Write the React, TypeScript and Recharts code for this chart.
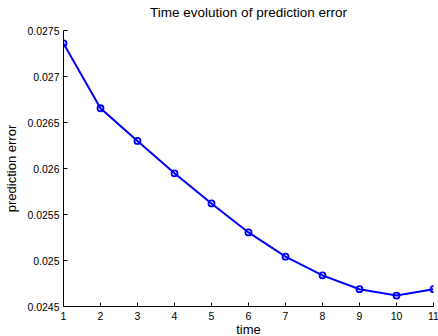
import React from 'react';
import { LineChart, Line, XAxis, YAxis, Label } from 'recharts';

const times = [1, 2, 3, 4, 5, 6, 7, 8, 9, 10, 11];
const predictionErrors = [
  0.02736, 0.026655, 0.0263, 0.025948, 0.02562, 0.025305,
  0.025042, 0.024839, 0.024688, 0.024619, 0.024688,
];
const xTicks = [1, 2, 3, 4, 5, 6, 7, 8, 9, 10, 11];
const yTicks = [0.0245, 0.025, 0.0255, 0.026, 0.0265, 0.027, 0.0275];

const data = times.map((t, i) => ({ time: t, error: predictionErrors[i] }));

const FONT = '"Liberation Sans", Arial, Helvetica, sans-serif';
const TICK_LEN = 4;

const fmtY = (v: number) => String(Number(v.toFixed(4)));

const BottomTick = (props: any) => {
  const { x, y, payload } = props;
  return (
    <g>
      <line x1={x} y1={y} x2={x} y2={y - TICK_LEN} stroke="#000" />
      <text x={x} y={y + 13} textAnchor="middle" fontSize={10.5} fontFamily={FONT} fill="#000">
        {payload.value}
      </text>
    </g>
  );
};

const TopTick = (props: any) => {
  const { x, y } = props;
  return <line x1={x} y1={y} x2={x} y2={y + TICK_LEN} stroke="#000" />;
};

const LeftTick = (props: any) => {
  const { x, y, payload } = props;
  return (
    <g>
      <line x1={x} y1={y} x2={x + TICK_LEN} y2={y} stroke="#000" />
      <text x={x - 4} y={y + 4} textAnchor="end" fontSize={10.5} fontFamily={FONT} fill="#000">
        {fmtY(payload.value)}
      </text>
    </g>
  );
};

const RightTick = (props: any) => {
  const { x, y } = props;
  return <line x1={x} y1={y} x2={x - TICK_LEN} y2={y} stroke="#000" />;
};

const XLabel = (props: any) => {
  const vb = props.viewBox;
  return (
    <text x={vb.x + vb.width / 2} y={vb.y + 27} textAnchor="middle" fontSize={13} fontFamily={FONT} fill="#000">
      time
    </text>
  );
};

const YLabel = (props: any) => {
  const vb = props.viewBox;
  const cx = 16;
  const cy = vb.y + vb.height / 2;
  return (
    <text x={cx} y={cy} transform={`rotate(-90, ${cx}, ${cy})`} textAnchor="middle" fontSize={13} fontFamily={FONT} fill="#000">
      prediction error
    </text>
  );
};

export default function App() {
  return (
    <div style={{ position: 'absolute', left: 0, top: 0, width: 438, height: 336, background: '#fff' }}>
      <div
        style={{
          position: 'absolute', left: 63.5, top: 5, width: 370, textAlign: 'center',
          fontFamily: FONT, fontSize: 13.5, lineHeight: '16px', color: '#000',
        }}
      >
        Time evolution of prediction error
      </div>
      <LineChart width={438} height={336} data={data} margin={{ top: 30.5, right: 4.5, bottom: 0, left: 0 }}>
        <XAxis
          dataKey="time" type="number" domain={[1, 11]} ticks={xTicks} allowDataOverflow
          height={29.5} tickSize={0} tickMargin={0} tickLine={false}
          axisLine={{ stroke: '#000' }} tick={<BottomTick />} interval={0}
        >
          <Label content={<XLabel />} />
        </XAxis>
        <XAxis
          xAxisId="top" orientation="top" dataKey="time" type="number" domain={[1, 11]} ticks={xTicks}
          allowDataOverflow height={0} tickSize={0} tickMargin={0} tickLine={false}
          axisLine={{ stroke: '#000' }} tick={<TopTick />} interval={0}
        />
        <YAxis
          type="number" domain={[0.0245, 0.0275]} ticks={yTicks} allowDataOverflow
          width={63.5} tickSize={0} tickMargin={0} tickLine={false}
          axisLine={{ stroke: '#000' }} tick={<LeftTick />} interval={0}
        >
          <Label content={<YLabel />} />
        </YAxis>
        <YAxis
          yAxisId="right" orientation="right" type="number" domain={[0.0245, 0.0275]} ticks={yTicks}
          allowDataOverflow width={0} tickSize={0} tickMargin={0} tickLine={false}
          axisLine={{ stroke: '#000' }} tick={<RightTick />} interval={0}
        />
        <Line
          type="linear" dataKey="error" stroke="#0000ff" strokeWidth={2}
          dot={{ r: 3, stroke: '#0000ff', strokeWidth: 1.8, fill: 'none' }}
          isAnimationActive={false}
        />
      </LineChart>
    </div>
  );
}
